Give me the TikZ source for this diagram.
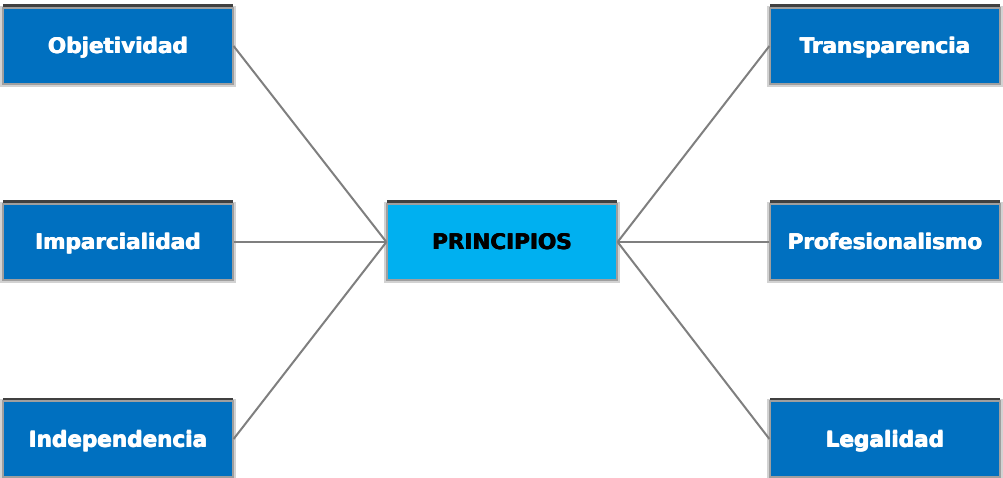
\documentclass[tikz,border=0pt]{standalone}
\usepackage{fontspec}
\setmainfont{DejaVu Sans}
\definecolor{boxblue}{HTML}{0070C0}
\definecolor{centerblue}{HTML}{00B0F0}
\definecolor{linegray}{HTML}{7F7F7F}
\newcommand\heavytxt[1]{\makebox[0pt][l]{#1}\makebox[0pt][l]{\hspace{0.5pt}\raisebox{0.3pt}{#1}}\hspace{0.9pt}#1}
\begin{document}
\begin{tikzpicture}[x=1pt,y=-1pt,
  base/.style={rectangle, minimum width=230pt, minimum height=76pt, inner sep=0pt,
    text height=16pt, text depth=0pt,
    draw=gray!75, line width=1.2pt, font=\bfseries\fontsize{21.5}{26}\selectfont},
  leaf/.style={base, fill=boxblue, text=white},
  hub/.style={base, fill=centerblue, text=black},
  conn/.style={draw=linegray, line width=2pt}]
\useasboundingbox (0,0) rectangle (1003,478);
% shadow halo and dark top edges
\foreach \x/\y in {118/8, 118/204, 118/401, 885/8, 885/204, 885/401, 502/204}{
  \fill[gray!35] (\x-118,\y-2) rectangle (\x+118,\y+79);
  \fill[black!75] (\x-115,\y-3.5) rectangle (\x+115,\y+0.5);
}
\node[leaf] (obj) at (118,46) {\heavytxt{Objetividad}};
\node[leaf] (imp) at (118,242) {\heavytxt{Imparcialidad}};
\node[leaf] (ind) at (118,439) {\heavytxt{Independencia}};
\node[leaf] (tra) at (885,46) {\heavytxt{Transparencia}};
\node[leaf] (pro) at (885,242) {\heavytxt{Profesionalismo}};
\node[leaf] (leg) at (885,439) {\heavytxt{Legalidad}};
\node[hub] (pri) at (502,242) {\heavytxt{PRINCIPIOS}};
\draw[conn] (obj.east) -- (pri.west);
\draw[conn] (imp.east) -- (pri.west);
\draw[conn] (ind.east) -- (pri.west);
\draw[conn] (tra.west) -- (pri.east);
\draw[conn] (pro.west) -- (pri.east);
\draw[conn] (leg.west) -- (pri.east);
\end{tikzpicture}
\end{document}
